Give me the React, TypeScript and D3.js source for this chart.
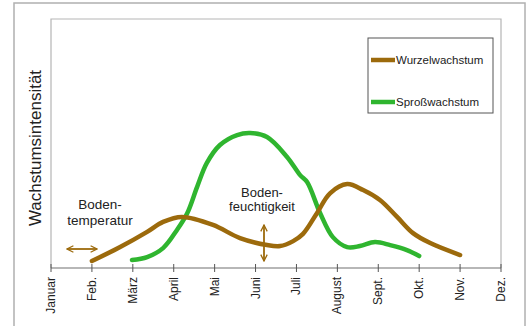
import React from "react";
import * as d3 from "d3";

const months = ["Januar", "Feb.", "März", "April", "Mai", "Juni", "Juli", "August", "Sept.", "Okt.", "Nov.", "Dez."];

const rootMonth = [1.0, 1.69, 2.35, 2.74, 3.2, 3.96, 4.62, 5.28, 5.6, 5.92, 6.16, 6.5, 6.82, 7.24, 7.63, 8.04, 8.46, 8.85, 9.27, 10.0];
const rootValue = [2.8, 8.4, 14.5, 18.5, 20.5, 17.3, 12, 9.2, 8.8, 10.8, 13.7, 22, 30, 33.7, 31.3, 27.3, 20.5, 14, 10, 5.2];

const shootMonth = [1.98, 2.35, 2.74, 3.08, 3.33, 3.57, 3.81, 4.13, 4.55, 4.87, 5.28, 5.77, 6.09, 6.26, 6.58, 6.89, 7.24, 7.55, 7.92, 8.29, 8.7, 9.0];
const shootValue = [3.2, 4.4, 8, 15.3, 22, 32.5, 42.2, 49.4, 53.4, 54.2, 52.6, 44.6, 37.3, 34.5, 22, 12.4, 8.4, 8.8, 10.4, 9.2, 7.2, 4.8];

const seriesNames = ["Wurzelwachstum", "Sproßwachstum"];
const yTitle = "Wachstumsintensität";

const BROWN = "#9c6a0c";
const GREEN = "#2fb52f";
const FONT = "'Liberation Sans', Arial, sans-serif";

export default function App() {
  const W = 531, H = 326;
  const x = d3.scaleLinear().domain([0, 11]).range([51, 501]);
  const y = d3.scaleLinear().domain([0, 100]).range([268, 19]);
  const line = d3.line<[number, number]>().x(d => x(d[0])).y(d => y(d[1])).curve(d3.curveCatmullRom.alpha(0.5));
  const root = rootMonth.map((m, i) => [m, rootValue[i]] as [number, number]);
  const shoot = shootMonth.map((m, i) => [m, shootValue[i]] as [number, number]);

  return (
    <svg width={W} height={H} style={{ position: "absolute", left: 0, top: 0, background: "#fff" }}>
      <defs>
        <marker id="ah" viewBox="0 0 10 10" refX="9" refY="5" markerWidth="8" markerHeight="8" orient="auto-start-reverse" markerUnits="userSpaceOnUse">
          <path d="M1,1 L9,5 L1,9" fill="none" stroke={BROWN} strokeWidth="1.6" />
        </marker>
      </defs>
      {/* outer frame */}
      <rect x={14} y={3} width={511} height={340} fill="none" stroke="#b0b0b0" strokeWidth={1.5} />
      {/* plot frame */}
      <polyline points={`${x(0)},${y(0)} ${x(0)},${y(100)} ${x(11)},${y(100)} ${x(11)},${y(0)}`} fill="none" stroke="#b5b5b5" strokeWidth={1.2} />
      {/* x axis */}
      <line x1={x(0)} x2={x(11)} y1={y(0)} y2={y(0)} stroke="#707070" strokeWidth={1.2} />
      {months.map((m, i) => (
        <g key={m}>
          <line x1={x(i)} x2={x(i)} y1={y(0) - 4} y2={y(0) + 4} stroke="#555" strokeWidth={1} />
          <text transform={`translate(${x(i) + 4},${y(0) + 9}) rotate(-90)`} textAnchor="end" fontFamily={FONT} fontSize={12} fill="#222">{m}</text>
        </g>
      ))}
      {/* y title */}
      <text transform={`translate(${41},${148}) rotate(-90)`} textAnchor="middle" fontFamily={FONT} fontSize={17} fill="#222">{yTitle}</text>
      {/* curves */}
      <path d={line(shoot) || ""} fill="none" stroke={GREEN} strokeWidth={4.5} strokeLinecap="round" />
      <path d={line(root) || ""} fill="none" stroke={BROWN} strokeWidth={4.5} strokeLinecap="round" />
      {/* annotations */}
      <text x={100} y={209} textAnchor="middle" fontFamily={FONT} fontSize={13.5} fill="#222">Boden-</text>
      <text x={100} y={225} textAnchor="middle" fontFamily={FONT} fontSize={13.5} fill="#222">temperatur</text>
      <line x1={67} x2={97} y1={249} y2={249} stroke={BROWN} strokeWidth={1.8} markerStart="url(#ah)" markerEnd="url(#ah)" />
      <text x={262} y={197} textAnchor="middle" fontFamily={FONT} fontSize={13} fill="#222">Boden-</text>
      <text x={262} y={211} textAnchor="middle" fontFamily={FONT} fontSize={13} fill="#222">feuchtigkeit</text>
      <line x1={264} x2={264} y1={225} y2={261} stroke={BROWN} strokeWidth={1.8} markerStart="url(#ah)" markerEnd="url(#ah)" />
      {/* legend */}
      <rect x={368} y={38} width={125} height={75} fill="#fff" stroke="#555" strokeWidth={1} />
      <line x1={371} x2={395} y1={60} y2={60} stroke={BROWN} strokeWidth={4.5} />
      <text x={396} y={64} fontFamily={FONT} fontSize={11.5} fill="#222">{seriesNames[0]}</text>
      <line x1={371} x2={395} y1={102} y2={102} stroke={GREEN} strokeWidth={4.5} />
      <text x={396} y={106} fontFamily={FONT} fontSize={11.5} fill="#222">{seriesNames[1]}</text>
    </svg>
  );
}
